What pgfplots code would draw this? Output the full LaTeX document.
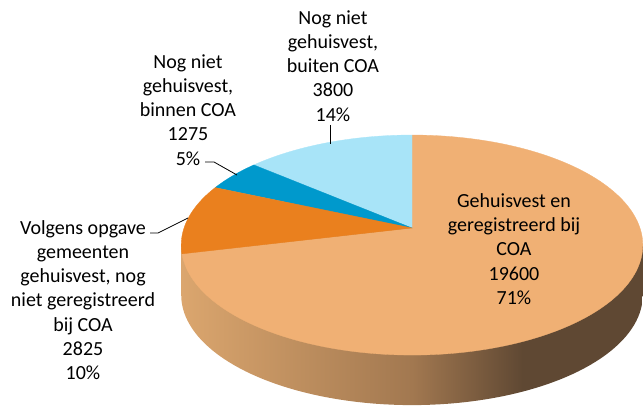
\documentclass[border=0pt]{standalone}
\usepackage{pgfplots}
\usepackage{pgfplotstable}
\pgfplotsset{compat=1.18}
\usepackage{fontspec}
\setmainfont{Carlito}
\definecolor{cTan}{HTML}{F0B074}
\definecolor{cOrange}{HTML}{EA801E}
\definecolor{cDark}{HTML}{0099CC}
\definecolor{cLight}{HTML}{A8E4F8}
\definecolor{sA}{HTML}{DBA66E}
\definecolor{sB}{HTML}{A27850}
\definecolor{sC}{HTML}{5F4833}
\pgfdeclarehorizontalshading{sideshade}{100bp}{color(0bp)=(sA); color(25bp)=(sA); color(50bp)=(sB); color(62bp)=(sC); color(100bp)=(sC)}
\tikzset{lbl/.style={font=\fontsize{20}{24.2}\selectfont, align=center, inner sep=0pt, text=black}}
\pgfplotstableread{
label value
tan 19600
lightblue 3800
darkblue 1275
orange 2825
}\pietable
\begin{document}
\begin{tikzpicture}
\pgfplotstablegetelem{0}{value}\of\pietable \let\vT\pgfplotsretval
\pgfplotstablegetelem{1}{value}\of\pietable \let\vLB\pgfplotsretval
\pgfplotstablegetelem{2}{value}\of\pietable \let\vDB\pgfplotsretval
\pgfplotstablegetelem{3}{value}\of\pietable \let\vO\pgfplotsretval
\pgfkeys{/pgf/fpu=true,/pgf/fpu/output format=fixed}
\pgfmathsetmacro\tot{\vT+\vLB+\vDB+\vO}
\pgfmathsetmacro\aA{90+360*\vLB/\tot}
\pgfmathsetmacro\aB{\aA+360*\vDB/\tot}
\pgfmathsetmacro\aC{\aB+360*\vO/\tot}
\pgfkeys{/pgf/fpu=false}
\begin{axis}[
  width=643pt, height=406pt, scale only axis,
  xmin=0, xmax=643, ymin=0, ymax=406, y dir=reverse,
  hide axis,
]
\addplot[draw=none] coordinates {(0,0) (643,406)};
% side (depth) of the 3D pie
\addplot[draw=none, shade, shading=sideshade, domain=0:360, samples=181]
  ({412+228*cos(x)/(1+0.155*sin(x))}, {278-107.4*sin(x)/(1+0.155*sin(x))}) -- cycle;
\addplot[draw=none, shade, shading=sideshade] coordinates {(181.2,245.06) (642.8,245.06) (642.8,295.06) (181.2,295.06)} -- cycle;
% top faces
\addplot[fill=cTan, draw=cTan, line width=0.3pt, domain=\aC:450, samples=150]
  ({412+228*cos(x)/(1+0.155*sin(x))}, {228-107.4*sin(x)/(1+0.155*sin(x))}) -- (axis cs:412,228) -- cycle;
\addplot[fill=cLight, draw=cLight, line width=0.3pt, domain=90:\aA, samples=40]
  ({412+228*cos(x)/(1+0.155*sin(x))}, {228-107.4*sin(x)/(1+0.155*sin(x))}) -- (axis cs:412,228) -- cycle;
\addplot[fill=cDark, draw=cDark, line width=0.3pt, domain=\aA:\aB, samples=20]
  ({412+228*cos(x)/(1+0.155*sin(x))}, {228-107.4*sin(x)/(1+0.155*sin(x))}) -- (axis cs:412,228) -- cycle;
\addplot[fill=cOrange, draw=cOrange, line width=0.3pt, domain=\aB:\aC, samples=30]
  ({412+228*cos(x)/(1+0.155*sin(x))}, {228-107.4*sin(x)/(1+0.155*sin(x))}) -- (axis cs:412,228) -- cycle;
% leader lines
\addplot[black, line width=0.8pt] coordinates {(330,125) (330,144)};
\addplot[black, line width=0.8pt] coordinates {(205,162) (214,162) (237,175)};
\addplot[black, line width=0.8pt] coordinates {(150,233) (158,233) (188,218)};
% labels
\node[lbl] at (axis cs:333,66) {Nog niet\\gehuisvest,\\buiten COA\\3800\\14\%};
\node[lbl] at (axis cs:188,110) {Nog niet\\gehuisvest,\\binnen COA\\1275\\5\%};
\node[lbl] at (axis cs:83,300) {Volgens opgave\\gemeenten\\gehuisvest, nog\\niet geregistreerd\\bij COA\\2825\\10\%};
\node[lbl] at (axis cs:514,249) {Gehuisvest en\\geregistreerd bij\\COA\\19600\\71\%};
\end{axis}
\end{tikzpicture}
\end{document}
